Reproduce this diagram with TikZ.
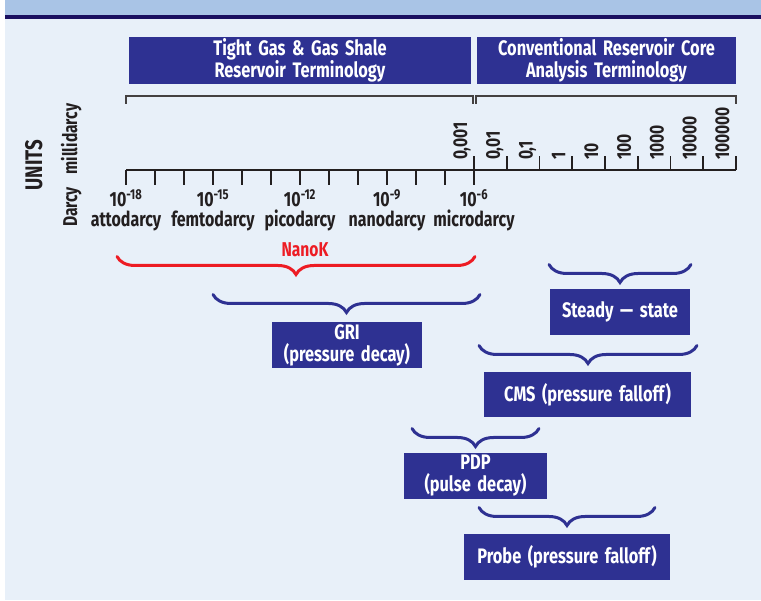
\documentclass[tikz,border=0pt]{standalone}
\usepackage{fontspec}
\setmainfont{Fira Sans}[FakeStretch=0.78,WordSpace=1.7]
\usetikzlibrary{decorations.pathreplacing}
\definecolor{navy}{HTML}{2E3192}
\definecolor{nkred}{HTML}{ED1C24}
\definecolor{panel}{HTML}{E8F0F9}
\definecolor{band}{HTML}{A9C4E6}
\definecolor{bandline}{HTML}{1A1060}
\definecolor{ink}{HTML}{231F20}

\begin{document}
\begin{tikzpicture}
[x=1pt,y=-1pt,
 every node/.style={inner sep=0pt,outer sep=0pt,text=ink},
 box/.style={rectangle,fill=navy,text=white,align=center,font=\bfseries\fontsize{21}{22}\selectfont},
 title/.style={box,minimum height=47pt},
 tick/.style={draw=ink,line width=1.6pt},
 bracket/.style={draw=ink!85,line width=1.4pt},
 brc/.style={decorate,decoration={brace,mirror,amplitude=18pt},line width=3pt,line cap=round,navy},
 exp/.style={font=\bfseries\fontsize{20.5}{22}\selectfont,anchor=base},
 unit/.style={font=\bfseries\fontsize{20.5}{22}\selectfont,anchor=base},
 mdv/.style={font=\bfseries\fontsize{20}{22}\selectfont,rotate=90,anchor=base west},
 side/.style={font=\bfseries\fontsize{20}{22}\selectfont,rotate=90,anchor=base}]
\useasboundingbox (0,0) rectangle (761,601);
\fill[white] (0,0) rectangle (761,601);
\fill[panel] (5,19) rectangle (761,600);
\fill[band] (5,0) rectangle (761,15);
\fill[bandline] (5,15) rectangle (761,19);

% headings
\node[title,minimum width=342pt] (tight) at (300,60.5) {Tight Gas \& Gas Shale\\Reservoir Terminology};
\node[title,minimum width=259pt] (conv) at (606.5,60.5) {Conventional Reservoir Core\\Analysis Terminology};
\draw[bracket] (126,104) -- (126,96) -- (473,96) -- (473,104);
\draw[bracket] (476,104) -- (476,96) -- (736,96) -- (736,104);

% scale
\draw[tick,line width=2pt] (126,170) -- (736,170);
\foreach \i in {0,...,12}
  \draw[tick] (126+29*\i,170) -- ++(0,15);
\draw[tick] (474,170) -- ++(0,-14);
\foreach \i in {1,...,8}
  \draw[tick] (474+32.75*\i,170) -- ++(0,-14);
\foreach \v [count=\i from 0] in {{0,001},{0,01},{0,1},1,10,100,1000,10000,100000}
  \node[mdv] (md\i) at (467+32.75*\i,160) {\v};
\foreach \e/\u [count=\i from 0] in {18/attodarcy,15/femtodarcy,12/picodarcy,9/nanodarcy,6/microdarcy}
{
  \node[exp] (e\i) at (126+87*\i,207) {10\textsuperscript{-\e}};
  \node[unit] (u\i) at (126+87*\i,227) {\u};
}
\node[side,font=\bfseries\fontsize{24}{26}\selectfont] (units) at (42,165) {UNITS};
\node[side] (mD) at (77,139) {millidarcy};
\node[side] (D) at (77,207) {Darcy};

% methods
\draw[brc,nkred] (117,256.5) -- (475,256.5);
\node[font=\bfseries\fontsize{20}{22}\selectfont,text=nkred] (nanok) at (305,250) {NanoK};
\draw[brc] (213,294.5) -- (480,294.5);
\node[box,minimum width=150pt,minimum height=46pt] (gri) at (347,345) {GRI\\(pressure decay)};
\draw[brc] (549,264.5) -- (691,264.5);
\node[box,minimum width=140pt,minimum height=46pt] (steady) at (620,312) {Steady --- state};
\draw[brc] (479,345.5) -- (697,345.5);
\node[box,minimum width=207pt,minimum height=45pt] (cms) at (587.5,394.5) {CMS (pressure falloff)};
\draw[brc] (412,428.5) -- (539,428.5);
\node[box,minimum width=143pt,minimum height=46pt] (pdp) at (475.5,476) {PDP\\(pulse decay)};
\draw[brc] (479,507.5) -- (655,507.5);
\node[box,minimum width=206pt,minimum height=46pt] (probe) at (567,557) {Probe (pressure falloff)};
\end{tikzpicture}
\end{document}
